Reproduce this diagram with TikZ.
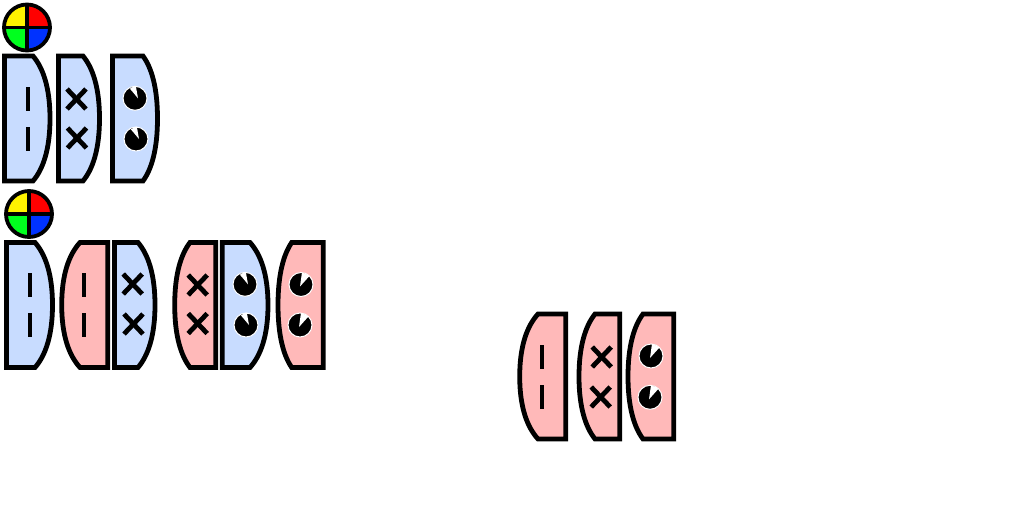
\documentclass[tikz,border=0pt]{standalone}
\usepackage{tikz}
\definecolor{lensblue}{RGB}{200,220,255}
\definecolor{lenspink}{RGB}{255,185,185}
\definecolor{wheelgreen}{RGB}{0,255,30}
\definecolor{wheelblue}{RGB}{0,50,255}
\begin{document}
\begin{tikzpicture}[x=1pt,y=-1pt,
        outline/.style={draw=black,line width=4.8pt,miter limit=10},
        slit/.style={line width=4.2pt},
        cross/.style={line width=4.8pt}]
        \useasboundingbox (0,0) rectangle (1024,512);

        % lenses bulging to the right
        \foreach \l/\f/\r/\t in {
            4.5/33/50/56, 58.5/83/99.5/56, 112.5/143/157.5/56,
            6.5/35/52.5/242.5, 114.5/138/155/242.5, 222.3/250/268/242.5}
                \draw[outline,fill=lensblue] (\l,\t) -- (\f,\t)
                    .. controls ({\f+0.6*(\r-\f)},\t+12) and (\r,\t+32) .. (\r,\t+62.5)
                    .. controls (\r,\t+93) and ({\f+0.6*(\r-\f)},\t+113) .. (\f,\t+125)
                    -- (\l,\t+125) -- cycle;

        % lenses bulging to the left
        \foreach \r/\f/\l/\t in {
            107.7/80/61.7/242.5, 215.7/190/174.7/242.5, 323.3/291.7/278/242.5,
            565.7/538/519.7/314, 619.7/595/579/314, 673.7/643/628/314}
                \draw[outline,fill=lenspink] (\r,\t) -- (\f,\t)
                    .. controls ({\f-0.6*(\f-\l)},\t+12) and (\l,\t+32) .. (\l,\t+62.5)
                    .. controls (\l,\t+93) and ({\f-0.6*(\f-\l)},\t+113) .. (\f,\t+125)
                    -- (\r,\t+125) -- cycle;

        % colour wheels
        \foreach \x/\y in {27/27.5, 29/214} {
                \fill[red] (\x,\y) -- +(0:23) arc[start angle=0,end angle=-90,radius=23] -- cycle;
                \fill[yellow] (\x,\y) -- +(-90:23) arc[start angle=-90,end angle=-180,radius=23] -- cycle;
                \fill[wheelgreen] (\x,\y) -- +(180:23) arc[start angle=180,end angle=90,radius=23] -- cycle;
                \fill[wheelblue] (\x,\y) -- +(90:23) arc[start angle=90,end angle=0,radius=23] -- cycle;
                \draw[line width=3.6pt] (\x-23,\y) -- (\x+23,\y);
                \draw[line width=3.6pt] (\x,\y-23) -- (\x,\y+23);
                \draw[line width=3.8pt] (\x,\y) circle(23);
        }

        % slits
        \foreach \x/\y in {28/99, 28/139, 30/285, 30/325, 84/285, 84/325, 542/357, 542/397}
                \draw[slit] (\x,\y-12) -- (\x,\y+12);

        % crosses
        \foreach \x/\y in {76.5/99, 77/138, 132.7/284, 133.5/324, 197.7/285, 197.7/323.5, 601.7/357, 600.7/397} {
                \draw[cross] (\x-9.5,\y-10) -- (\x+9.5,\y+10);
                \draw[cross] (\x-9.5,\y+10) -- (\x+9.5,\y-10);
        }

        % dials, notch up on the left
        \foreach \x/\y in {135/98.3, 136/139, 245/284.3, 246/325} {
                \fill[black,draw=white,line width=1pt] (\x,\y) circle(12);
                \fill[white] (\x+3,\y) -- +(-100:12.5) arc[start angle=-100,end angle=-130,radius=12.5] -- cycle;
        }

        % dials, notch up on the right
        \foreach \x/\y in {301/284.5, 300/325, 651/356, 650/397.3} {
                \fill[black,draw=white,line width=1pt] (\x,\y) circle(12);
                \fill[white] (\x-1,\y+2) -- +(-82:14) arc[start angle=-82,end angle=-48,radius=14] -- cycle;
        }
\end{tikzpicture}
\end{document}
